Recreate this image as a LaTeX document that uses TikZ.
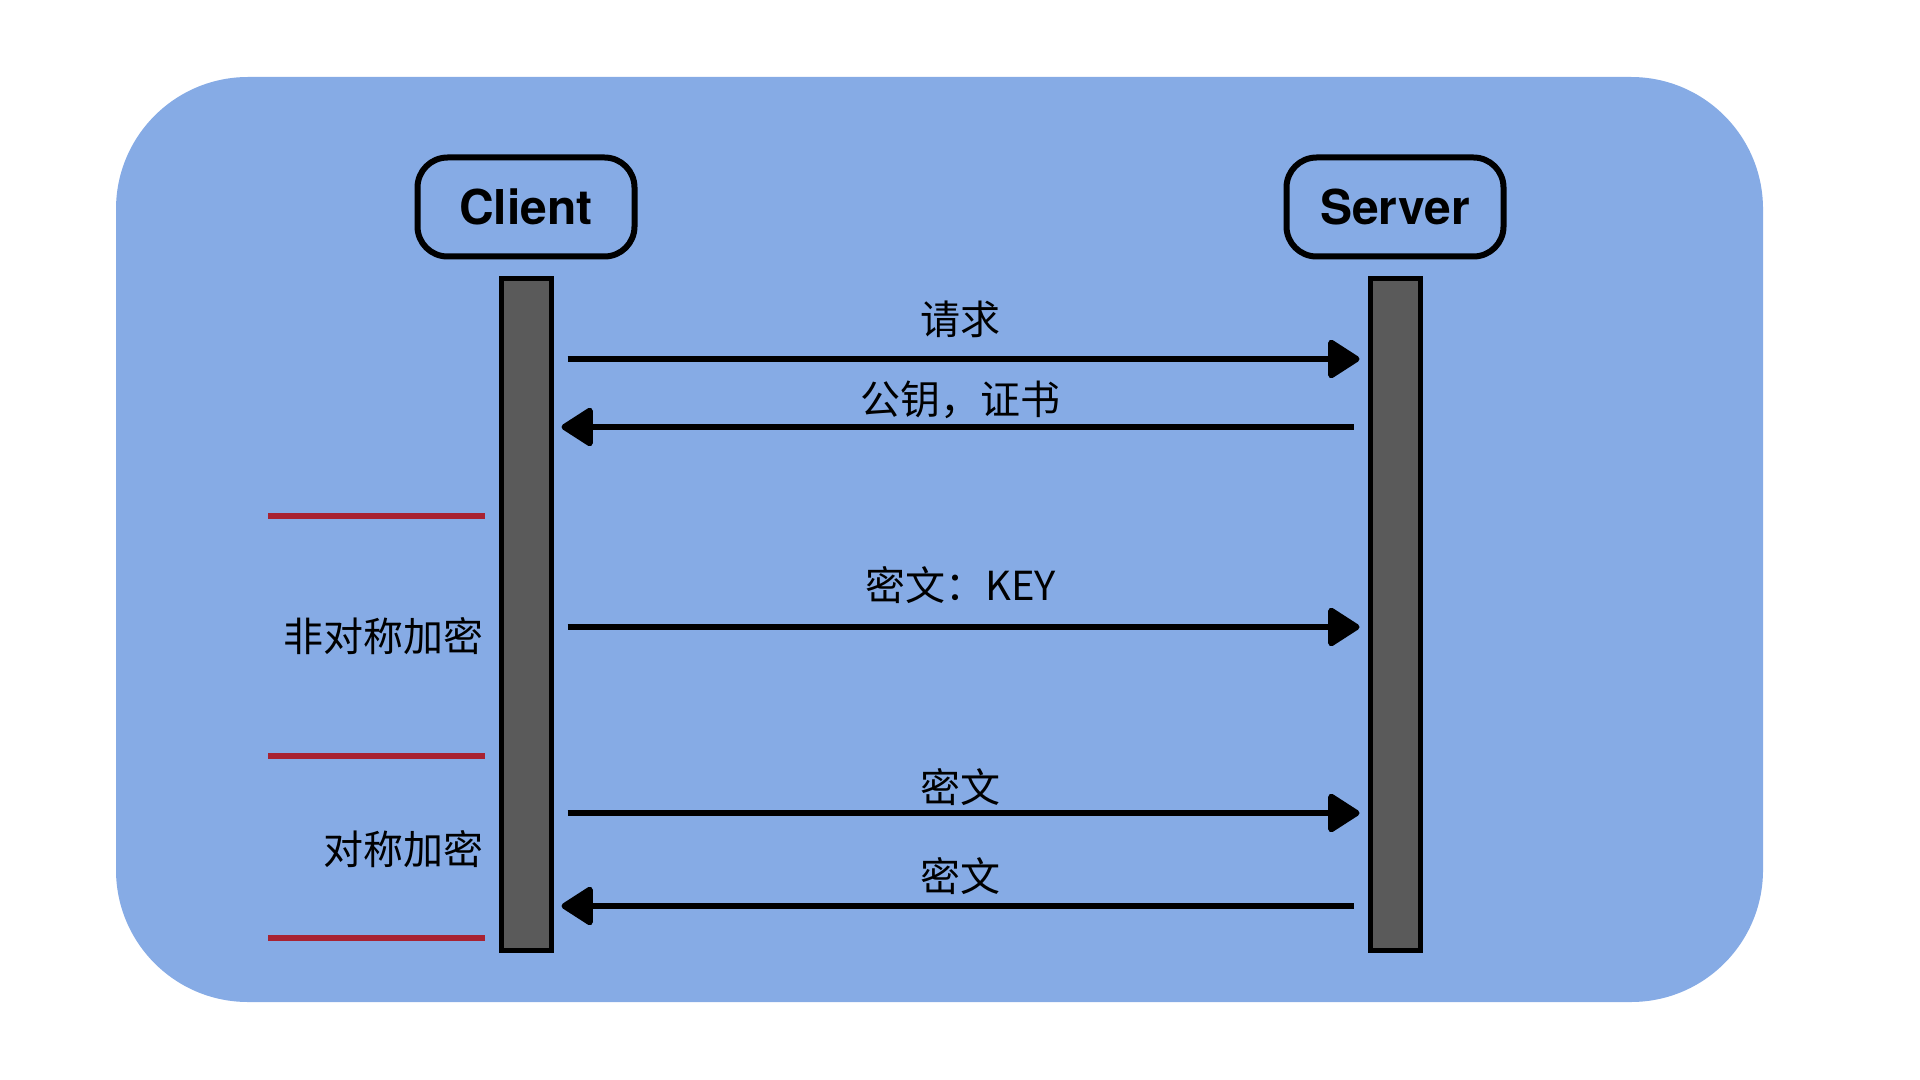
\documentclass[tikz,border=0pt]{standalone}
\usepackage{fontspec}
\usepackage{tikz}
\usepackage{xcolor}
\usetikzlibrary{arrows.meta,positioning}
\setmainfont{TeX Gyre Heros}
\newfontfamily\cjk{Noto Sans CJK SC}
\definecolor{bgblue}{RGB}{134,171,229}
\definecolor{bargray}{RGB}{90,90,90}
\definecolor{phasered}{RGB}{168,34,50}
\tikzset{
    actor-box/.style = {draw=black, line width=3pt, rectangle, rounded corners=15pt, minimum width=108.5pt, minimum height=49.5pt, font=\fontsize{24}{28}\selectfont\bfseries},
    life-bar/.style = {draw=black, fill=bargray, line width=2.5pt, rectangle, inner sep=0pt, minimum width=25pt, minimum height=335.5pt},
    msg-arrow/.style = {line width=3pt, -{Triangle[length=17pt, width=21pt, round]}},
    msg-label/.style = {inner sep=0pt, font=\cjk\fontsize{20}{24}\selectfont},
    phase-line/.style = {draw=phasered, line width=3pt},
    phase-label/.style = {inner sep=0pt, anchor=east, font=\cjk\fontsize{20}{24}\selectfont},
}
\begin{document}
\begin{tikzpicture}[x=0.5pt, y=-0.5pt]
\useasboundingbox (0,0) rectangle (1920,1080);
\fill[bgblue, rounded corners=66pt] (116,77) rectangle (1763,1002);

\node[actor-box] (client) at (526,207) {Client};
\node[actor-box] (server) at (1395,207) {Server};
\node[life-bar, below=8.5pt of client] (client-bar) {};
\node[life-bar, below=8.5pt of server] (server-bar) {};

% message rows
\coordinate (m1) at (0,359);
\coordinate (m2) at (0,427);
\coordinate (m3) at (0,627);
\coordinate (m4) at (0,813);
\coordinate (m5) at (0,906);

\draw[msg-arrow, shorten <=7pt, shorten >=4pt] (client-bar.east |- m1) -- node[msg-label, yshift=19.75pt] (req) {请求} (server-bar.west |- m1);
\draw[msg-arrow, shorten <=7pt, shorten >=4pt] (server-bar.west |- m2) -- node[msg-label, yshift=13.5pt] (cert) {公钥，证书} (client-bar.east |- m2);
\draw[msg-arrow, shorten <=7pt, shorten >=4pt] (client-bar.east |- m3) -- node[msg-label, yshift=21pt] (key) {密文：KEY} (server-bar.west |- m3);
\draw[msg-arrow, shorten <=7pt, shorten >=4pt] (client-bar.east |- m4) -- node[msg-label, yshift=13pt] (data-up) {密文} (server-bar.west |- m4);
\draw[msg-arrow, shorten <=7pt, shorten >=4pt] (server-bar.west |- m5) -- node[msg-label, yshift=15pt] (data-down) {密文} (client-bar.east |- m5);

% phases
\draw[phase-line] (268,516) -- (485,516);
\draw[phase-line] (268,756) -- (485,756);
\draw[phase-line] (268,938) -- (485,938);
\node[phase-label] (asym) at (484,636) {非对称加密};
\node[phase-label] (sym) at (484,849) {对称加密};
\end{tikzpicture}
\end{document}
